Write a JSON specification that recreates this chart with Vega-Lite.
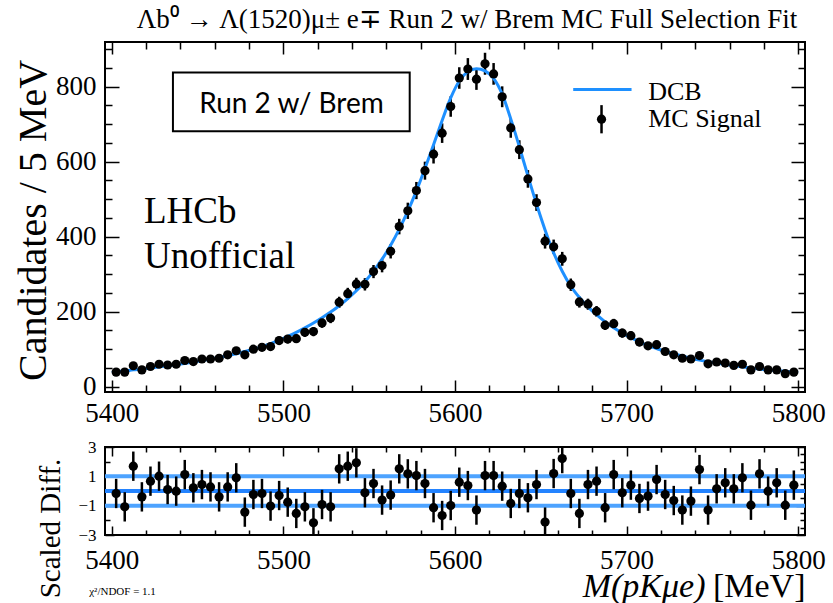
{
  "$schema": "https://vega.github.io/schema/vega-lite/v6.json",
  "background": "white",
  "padding": {"left": 11, "top": 5, "right": 5, "bottom": 5},
  "bounds": "flush",
  "spacing": 55,
  "datasets": {
    "bins": [
      {"m":5402.5,"n":39,"lo":32.8,"hi":45.2,"r":-0.17,"rlo":-1.17,"rhi":0.83},
      {"m":5407.5,"n":39,"lo":32.8,"hi":45.2,"r":-1.08,"rlo":-2.08,"rhi":-0.08},
      {"m":5412.5,"n":56,"lo":48.5,"hi":63.5,"r":1.69,"rlo":0.69,"rhi":2.69},
      {"m":5417.5,"n":45,"lo":38.3,"hi":51.7,"r":-0.40,"rlo":-1.40,"rhi":0.60},
      {"m":5422.5,"n":54,"lo":46.7,"hi":61.3,"r":0.67,"rlo":-0.33,"rhi":1.67},
      {"m":5427.5,"n":60,"lo":52.3,"hi":67.7,"r":1.01,"rlo":0.01,"rhi":2.01},
      {"m":5432.5,"n":58,"lo":50.4,"hi":65.6,"r":0.10,"rlo":-0.90,"rhi":1.10},
      {"m":5437.5,"n":60,"lo":52.3,"hi":67.7,"r":-0.01,"rlo":-1.01,"rhi":0.99},
      {"m":5442.5,"n":70,"lo":61.6,"hi":78.4,"r":1.12,"rlo":0.12,"rhi":2.12},
      {"m":5447.5,"n":67,"lo":58.8,"hi":75.2,"r":0.22,"rlo":-0.78,"rhi":1.22},
      {"m":5452.5,"n":74,"lo":65.4,"hi":82.6,"r":0.44,"rlo":-0.56,"rhi":1.44},
      {"m":5457.5,"n":74,"lo":65.4,"hi":82.6,"r":0.28,"rlo":-0.72,"rhi":1.28},
      {"m":5462.5,"n":76,"lo":67.3,"hi":84.7,"r":-0.40,"rlo":-1.40,"rhi":0.60},
      {"m":5467.5,"n":85,"lo":75.8,"hi":94.2,"r":0.28,"rlo":-0.72,"rhi":1.28},
      {"m":5472.5,"n":96,"lo":86.2,"hi":105.8,"r":0.90,"rlo":-0.10,"rhi":1.90},
      {"m":5477.5,"n":85,"lo":75.8,"hi":94.2,"r":-1.44,"rlo":-2.44,"rhi":-0.44},
      {"m":5482.5,"n":100,"lo":90,"hi":110,"r":-0.24,"rlo":-1.24,"rhi":0.76},
      {"m":5487.5,"n":105,"lo":94.8,"hi":115.2,"r":-0.17,"rlo":-1.17,"rhi":0.83},
      {"m":5492.5,"n":107,"lo":96.7,"hi":117.3,"r":-1.03,"rlo":-2.03,"rhi":-0.03},
      {"m":5497.5,"n":123,"lo":111.9,"hi":134.1,"r":-0.31,"rlo":-1.31,"rhi":0.69},
      {"m":5502.5,"n":127,"lo":115.7,"hi":138.3,"r":-0.76,"rlo":-1.76,"rhi":0.24},
      {"m":5507.5,"n":128,"lo":116.7,"hi":139.3,"r":-1.53,"rlo":-2.53,"rhi":-0.53},
      {"m":5512.5,"n":145,"lo":133,"hi":157,"r":-1.08,"rlo":-2.08,"rhi":-0.08},
      {"m":5517.5,"n":147,"lo":134.9,"hi":159.1,"r":-2.17,"rlo":-3.17,"rhi":-1.17},
      {"m":5522.5,"n":170,"lo":157,"hi":183,"r":-0.92,"rlo":-1.92,"rhi":0.08},
      {"m":5527.5,"n":183,"lo":169.5,"hi":196.5,"r":-1.08,"rlo":-2.08,"rhi":-0.08},
      {"m":5532.5,"n":225,"lo":210,"hi":240,"r":1.51,"rlo":0.51,"rhi":2.51},
      {"m":5537.5,"n":248,"lo":232.3,"hi":263.7,"r":1.69,"rlo":0.69,"rhi":2.69},
      {"m":5542.5,"n":274,"lo":257.4,"hi":290.6,"r":1.92,"rlo":0.92,"rhi":2.92},
      {"m":5547.5,"n":273,"lo":256.5,"hi":289.5,"r":-0.12,"rlo":-1.12,"rhi":0.88},
      {"m":5552.5,"n":307,"lo":289.5,"hi":324.5,"r":0.51,"rlo":-0.49,"rhi":1.51},
      {"m":5557.5,"n":323,"lo":305,"hi":341,"r":-0.62,"rlo":-1.62,"rhi":0.38},
      {"m":5562.5,"n":361,"lo":342,"hi":380,"r":-0.28,"rlo":-1.28,"rhi":0.72},
      {"m":5567.5,"n":427,"lo":406.3,"hi":447.7,"r":1.51,"rlo":0.51,"rhi":2.51},
      {"m":5572.5,"n":469,"lo":447.3,"hi":490.7,"r":1.17,"rlo":0.17,"rhi":2.17},
      {"m":5577.5,"n":523,"lo":500.1,"hi":545.9,"r":1.05,"rlo":0.05,"rhi":2.05},
      {"m":5582.5,"n":576,"lo":552,"hi":600,"r":0.51,"rlo":-0.49,"rhi":1.51},
      {"m":5587.5,"n":620,"lo":595.1,"hi":644.9,"r":-1.14,"rlo":-2.14,"rhi":-0.14},
      {"m":5592.5,"n":676,"lo":650,"hi":702,"r":-1.67,"rlo":-2.67,"rhi":-0.67},
      {"m":5597.5,"n":747,"lo":719.7,"hi":774.3,"r":-0.99,"rlo":-1.99,"rhi":0.01},
      {"m":5602.5,"n":823,"lo":794.3,"hi":851.7,"r":0.60,"rlo":-0.40,"rhi":1.60},
      {"m":5607.5,"n":847,"lo":817.9,"hi":876.1,"r":0.37,"rlo":-0.63,"rhi":1.37},
      {"m":5612.5,"n":820,"lo":791.4,"hi":848.6,"r":-1.30,"rlo":-2.30,"rhi":-0.30},
      {"m":5617.5,"n":861,"lo":831.7,"hi":890.3,"r":1.05,"rlo":0.05,"rhi":2.05},
      {"m":5622.5,"n":834,"lo":805.1,"hi":862.9,"r":1.05,"rlo":0.05,"rhi":2.05},
      {"m":5627.5,"n":773,"lo":745.2,"hi":800.8,"r":0.33,"rlo":-0.67,"rhi":1.33},
      {"m":5632.5,"n":690,"lo":663.7,"hi":716.3,"r":-0.85,"rlo":-1.85,"rhi":0.15},
      {"m":5637.5,"n":632,"lo":606.9,"hi":657.1,"r":-0.17,"rlo":-1.17,"rhi":0.83},
      {"m":5642.5,"n":554,"lo":530.5,"hi":577.5,"r":-0.46,"rlo":-1.46,"rhi":0.54},
      {"m":5647.5,"n":491,"lo":468.8,"hi":513.2,"r":0.44,"rlo":-0.56,"rhi":1.44},
      {"m":5652.5,"n":388,"lo":368.3,"hi":407.7,"r":-2.12,"rlo":-3.12,"rhi":-1.12},
      {"m":5657.5,"n":373,"lo":353.7,"hi":392.3,"r":1.19,"rlo":0.19,"rhi":2.19},
      {"m":5662.5,"n":341,"lo":322.5,"hi":359.5,"r":2.21,"rlo":1.21,"rhi":3.21},
      {"m":5667.5,"n":272,"lo":255.5,"hi":288.5,"r":-0.17,"rlo":-1.17,"rhi":0.83},
      {"m":5672.5,"n":226,"lo":211,"hi":241,"r":-1.53,"rlo":-2.53,"rhi":-0.53},
      {"m":5677.5,"n":220,"lo":205.2,"hi":234.8,"r":0.44,"rlo":-0.56,"rhi":1.44},
      {"m":5682.5,"n":201,"lo":186.8,"hi":215.2,"r":0.67,"rlo":-0.33,"rhi":1.67},
      {"m":5687.5,"n":164,"lo":151.2,"hi":176.8,"r":-1.14,"rlo":-2.14,"rhi":-0.14},
      {"m":5692.5,"n":168,"lo":155,"hi":181,"r":1.12,"rlo":0.12,"rhi":2.12},
      {"m":5697.5,"n":143,"lo":131,"hi":155,"r":-0.12,"rlo":-1.12,"rhi":0.88},
      {"m":5702.5,"n":136,"lo":124.3,"hi":147.7,"r":0.40,"rlo":-0.60,"rhi":1.40},
      {"m":5707.5,"n":119,"lo":108.1,"hi":129.9,"r":-0.51,"rlo":-1.51,"rhi":0.49},
      {"m":5712.5,"n":109,"lo":98.6,"hi":119.4,"r":-0.35,"rlo":-1.35,"rhi":0.65},
      {"m":5717.5,"n":112,"lo":101.4,"hi":122.6,"r":0.78,"rlo":-0.22,"rhi":1.78},
      {"m":5722.5,"n":94,"lo":84.3,"hi":103.7,"r":-0.24,"rlo":-1.24,"rhi":0.76},
      {"m":5727.5,"n":85,"lo":75.8,"hi":94.2,"r":-0.65,"rlo":-1.65,"rhi":0.35},
      {"m":5732.5,"n":76,"lo":67.3,"hi":84.7,"r":-1.30,"rlo":-2.30,"rhi":-0.30},
      {"m":5737.5,"n":74,"lo":65.4,"hi":82.6,"r":-0.69,"rlo":-1.69,"rhi":0.31},
      {"m":5742.5,"n":83,"lo":73.9,"hi":92.1,"r":1.46,"rlo":0.46,"rhi":2.46},
      {"m":5747.5,"n":61,"lo":53.2,"hi":68.8,"r":-1.30,"rlo":-2.30,"rhi":-0.30},
      {"m":5752.5,"n":66,"lo":57.9,"hi":74.1,"r":0.15,"rlo":-0.85,"rhi":1.15},
      {"m":5757.5,"n":63,"lo":55.1,"hi":70.9,"r":0.56,"rlo":-0.44,"rhi":1.56},
      {"m":5762.5,"n":57,"lo":49.5,"hi":64.5,"r":0.15,"rlo":-0.85,"rhi":1.15},
      {"m":5767.5,"n":60,"lo":52.3,"hi":67.7,"r":0.90,"rlo":-0.10,"rhi":1.90},
      {"m":5772.5,"n":45,"lo":38.3,"hi":51.7,"r":-0.97,"rlo":-1.97,"rhi":0.03},
      {"m":5777.5,"n":54,"lo":46.7,"hi":61.3,"r":1.17,"rlo":0.17,"rhi":2.17},
      {"m":5782.5,"n":45,"lo":38.3,"hi":51.7,"r":-0.01,"rlo":-1.01,"rhi":0.99},
      {"m":5787.5,"n":45,"lo":38.3,"hi":51.7,"r":0.56,"rlo":-0.44,"rhi":1.56},
      {"m":5792.5,"n":35,"lo":29.1,"hi":40.9,"r":-0.97,"rlo":-1.97,"rhi":0.03},
      {"m":5797.5,"n":39,"lo":32.8,"hi":45.2,"r":0.40,"rlo":-0.60,"rhi":1.40}
    ],
    "curve": [
      {"m":5400,"fit":38},{"m":5402.5,"fit":40},{"m":5407.5,"fit":42},{"m":5412.5,"fit":45},{"m":5417.5,"fit":47},
      {"m":5422.5,"fit":50},{"m":5427.5,"fit":53},{"m":5432.5,"fit":56},{"m":5437.5,"fit":59},{"m":5442.5,"fit":62},
      {"m":5447.5,"fit":66},{"m":5452.5,"fit":70},{"m":5457.5,"fit":74},{"m":5462.5,"fit":78},{"m":5467.5,"fit":83},
      {"m":5472.5,"fit":88},{"m":5477.5,"fit":94},{"m":5482.5,"fit":100},{"m":5487.5,"fit":107},{"m":5492.5,"fit":115},
      {"m":5497.5,"fit":124},{"m":5502.5,"fit":134},{"m":5507.5,"fit":145},{"m":5512.5,"fit":157},{"m":5517.5,"fit":170},
      {"m":5522.5,"fit":184},{"m":5527.5,"fit":199},{"m":5532.5,"fit":216},{"m":5537.5,"fit":235},{"m":5542.5,"fit":256},
      {"m":5547.5,"fit":280},{"m":5552.5,"fit":308},{"m":5557.5,"fit":340},{"m":5562.5,"fit":377},{"m":5567.5,"fit":420},
      {"m":5572.5,"fit":468},{"m":5577.5,"fit":522},{"m":5582.5,"fit":582},{"m":5587.5,"fit":645},{"m":5592.5,"fit":710},
      {"m":5597.5,"fit":770},{"m":5602.5,"fit":815},{"m":5607.5,"fit":840},{"m":5612.5,"fit":848},{"m":5617.5,"fit":842},
      {"m":5622.5,"fit":822},{"m":5627.5,"fit":780},{"m":5632.5,"fit":714},{"m":5637.5,"fit":640},{"m":5642.5,"fit":562},
      {"m":5647.5,"fit":487},{"m":5652.5,"fit":418},{"m":5657.5,"fit":357},{"m":5662.5,"fit":308},{"m":5667.5,"fit":268},
      {"m":5672.5,"fit":238},{"m":5677.5,"fit":213},{"m":5682.5,"fit":192},{"m":5687.5,"fit":173},{"m":5692.5,"fit":157},
      {"m":5697.5,"fit":143},{"m":5702.5,"fit":131},{"m":5707.5,"fit":120},{"m":5712.5,"fit":110},{"m":5717.5,"fit":102},
      {"m":5722.5,"fit":94},{"m":5727.5,"fit":88},{"m":5732.5,"fit":82},{"m":5737.5,"fit":76},{"m":5742.5,"fit":71},
      {"m":5747.5,"fit":67},{"m":5752.5,"fit":63},{"m":5757.5,"fit":59},{"m":5762.5,"fit":56},{"m":5767.5,"fit":53},
      {"m":5772.5,"fit":50},{"m":5777.5,"fit":47},{"m":5782.5,"fit":45},{"m":5787.5,"fit":43},{"m":5792.5,"fit":41},
      {"m":5797.5,"fit":39},{"m":5800,"fit":38}
    ],
    "refs": [{"ref": 1}, {"ref": -1}],
    "zero": [{"ref": 0}],
    "blank": [{}]
  },
  "config": {
    "view": {"stroke": "black", "strokeWidth": 2},
    "axis": {
      "domain": false, "grid": false, "tickColor": "black", "tickWidth": 1.5,
      "labelColor": "black", "labelFont": "Liberation Serif", "titleFont": "Liberation Serif",
      "titleFontWeight": "normal", "titleColor": "black", "labelFlush": false, "labelOverlap": false
    },
    "text": {"font": "Liberation Serif", "color": "black"}
  },
  "vconcat": [
    {
      "width": 700,
      "height": 350,
      "title": {
        "text": "Λb⁰ → Λ(1520)μ± e∓ Run 2 w/ Brem MC Full Selection Fit",
        "font": "Liberation Serif", "fontSize": 27, "fontWeight": "normal", "color": "black",
        "anchor": "middle", "frame": "group", "offset": -20, "baseline": "alphabetic", "dx": 12
      },
      "resolve": {"axis": {"x": "independent", "y": "independent"}},
      "layer": [
        {
          "data": {"name": "bins"},
          "mark": {"type": "rule", "color": "black", "strokeWidth": 2.5},
          "encoding": {
            "x": {"field": "m", "type": "quantitative",
              "scale": {"domain": [5396, 5804], "nice": false, "zero": false},
              "axis": {"orient": "bottom",
                "values": [5400,5420,5440,5460,5480,5500,5520,5540,5560,5580,5600,5620,5640,5660,5680,5700,5720,5740,5760,5780,5800],
                "format": "d",
                "tickSize": {"condition": {"test": "datum.value % 100 === 0", "value": -12}, "value": -7},
                "labelExpr": "datum.value % 100 === 0 ? datum.label : ''",
                "labelFontSize": 27, "labelPadding": 20, "title": null}},
            "y": {"field": "lo", "type": "quantitative",
              "scale": {"domain": [-14, 919], "nice": false, "zero": false},
              "axis": {"orient": "left",
                "values": [0,50,100,150,200,250,300,350,400,450,500,550,600,650,700,750,800,850,900],
                "format": "d",
                "tickSize": {"condition": {"test": "datum.value % 200 === 0", "value": -14}, "value": -7},
                "labelExpr": "datum.value % 200 === 0 ? datum.label : ''",
                "labelFontSize": 27, "labelPadding": 23,
                "title": "Candidates / 5 MeV", "titleFontSize": 40,
                "titleX": -72, "titleY": 178, "titleAngle": 270, "titleAlign": "center", "titleBaseline": "middle"}},
            "y2": {"field": "hi"}
          }
        },
        {
          "data": {"name": "curve"},
          "mark": {"type": "line", "color": "#1e90ff", "strokeWidth": 3, "interpolate": "monotone"},
          "encoding": {
            "x": {"field": "m", "type": "quantitative",
              "axis": {"orient": "top",
                "values": [5400,5420,5440,5460,5480,5500,5520,5540,5560,5580,5600,5620,5640,5660,5680,5700,5720,5740,5760,5780,5800],
                "tickSize": {"condition": {"test": "datum.value % 100 === 0", "value": -12}, "value": -7},
                "labels": false, "title": null}},
            "y": {"field": "fit", "type": "quantitative",
              "axis": {"orient": "right",
                "values": [0,50,100,150,200,250,300,350,400,450,500,550,600,650,700,750,800,850,900],
                "tickSize": {"condition": {"test": "datum.value % 200 === 0", "value": -14}, "value": -7},
                "labels": false, "title": null}}
          }
        },
        {
          "data": {"name": "bins"},
          "mark": {"type": "point", "filled": true, "shape": "circle", "size": 85, "color": "black", "opacity": 1},
          "encoding": {
            "x": {"field": "m", "type": "quantitative", "axis": null},
            "y": {"field": "n", "type": "quantitative", "axis": null}
          }
        },
        {
          "data": {"name": "blank"},
          "mark": {"type": "rect", "fill": "white", "fillOpacity": 0, "stroke": "black", "strokeWidth": 2},
          "encoding": {
            "x": {"datum": 5435.6, "type": "quantitative", "axis": null},
            "x2": {"datum": 5573.6},
            "y": {"datum": 681.3, "type": "quantitative", "axis": null},
            "y2": {"datum": 837.9}
          }
        },
        {
          "data": {"name": "blank"},
          "mark": {"type": "text", "text": "Run 2 w/ Brem", "font": "Lato", "fontSize": 28, "align": "center", "baseline": "alphabetic"},
          "encoding": {
            "x": {"datum": 5504.7, "type": "quantitative", "axis": null},
            "y": {"datum": 728.5, "type": "quantitative", "axis": null}
          }
        },
        {
          "data": {"name": "blank"},
          "mark": {"type": "text", "text": ["LHCb", "Unofficial"], "fontSize": 37, "lineHeight": 45, "align": "left", "baseline": "alphabetic"},
          "encoding": {
            "x": {"datum": 5418.7, "type": "quantitative", "axis": null},
            "y": {"datum": 436.8, "type": "quantitative", "axis": null}
          }
        },
        {
          "data": {"name": "blank"},
          "mark": {"type": "rule", "color": "#1e90ff", "strokeWidth": 3},
          "encoding": {
            "x": {"datum": 5668.9, "type": "quantitative", "axis": null},
            "x2": {"datum": 5702.9},
            "y": {"datum": 792.5, "type": "quantitative", "axis": null}
          }
        },
        {
          "data": {"name": "blank"},
          "mark": {"type": "rule", "color": "black", "strokeWidth": 2.5},
          "encoding": {
            "x": {"datum": 5685.4, "type": "quantitative", "axis": null},
            "y": {"datum": 675.5, "type": "quantitative", "axis": null},
            "y2": {"datum": 750.7}
          }
        },
        {
          "data": {"name": "blank"},
          "mark": {"type": "point", "filled": true, "shape": "circle", "size": 85, "color": "black", "opacity": 1},
          "encoding": {
            "x": {"datum": 5685.4, "type": "quantitative", "axis": null},
            "y": {"datum": 713.3, "type": "quantitative", "axis": null}
          }
        },
        {
          "data": {"name": "blank"},
          "mark": {"type": "text", "text": "DCB", "fontSize": 26, "align": "left", "baseline": "alphabetic"},
          "encoding": {
            "x": {"datum": 5712.6, "type": "quantitative", "axis": null},
            "y": {"datum": 764, "type": "quantitative", "axis": null}
          }
        },
        {
          "data": {"name": "blank"},
          "mark": {"type": "text", "text": "MC Signal", "fontSize": 26, "align": "left", "baseline": "alphabetic"},
          "encoding": {
            "x": {"datum": 5712.6, "type": "quantitative", "axis": null},
            "y": {"datum": 691.2, "type": "quantitative", "axis": null}
          }
        }
      ]
    },
    {
      "width": 700,
      "height": 88,
      "resolve": {"axis": {"x": "independent", "y": "independent"}},
      "layer": [
        {
          "data": {"name": "refs"},
          "mark": {"type": "rule", "color": "#4da3ff", "strokeWidth": 4},
          "encoding": {
            "y": {"field": "ref", "type": "quantitative", "scale": {"domain": [-3, 3], "nice": false, "zero": false}, "axis": null}
          }
        },
        {
          "data": {"name": "zero"},
          "mark": {"type": "rule", "color": "#2383ff", "strokeWidth": 4},
          "encoding": {
            "y": {"field": "ref", "type": "quantitative", "axis": null}
          }
        },
        {
          "data": {"name": "bins"},
          "mark": {"type": "rule", "color": "black", "strokeWidth": 2.5, "clip": true},
          "encoding": {
            "x": {"field": "m", "type": "quantitative",
              "scale": {"domain": [5396, 5804], "nice": false, "zero": false},
              "axis": {"orient": "bottom",
                "values": [5400,5420,5440,5460,5480,5500,5520,5540,5560,5580,5600,5620,5640,5660,5680,5700,5720,5740,5760,5780,5800],
                "format": "d",
                "tickSize": {"condition": {"test": "datum.value % 100 === 0", "value": -9}, "value": -5},
                "labelExpr": "datum.value % 100 === 0 ? datum.label : ''",
                "labelFontSize": 27, "labelPadding": 21,
                "title": "M(pKμe)", "titleFontSize": 34, "titleFontStyle": "italic",
                "titleX": 600, "titleY": 61, "titleAlign": "right", "titleBaseline": "alphabetic", "titleAngle": 0}},
            "y": {"field": "rlo", "type": "quantitative",
              "axis": {"orient": "left",
                "values": [-3,-2.5,-2,-1.5,-1,-0.5,0,0.5,1,1.5,2,2.5,3],
                "format": "d",
                "tickSize": {"condition": {"test": "(datum.value + 3) % 2 === 0", "value": -9}, "value": -5},
                "labelExpr": "(datum.value + 3) % 2 === 0 ? datum.label : ''",
                "labelFontSize": 17, "labelPadding": 18,
                "title": "Scaled Diff.", "titleFontSize": 29,
                "titleX": -55, "titleY": 81, "titleAngle": 270, "titleAlign": "center", "titleBaseline": "middle"}},
            "y2": {"field": "rhi"}
          }
        },
        {
          "data": {"name": "bins"},
          "mark": {"type": "point", "filled": true, "shape": "circle", "size": 85, "color": "black", "opacity": 1},
          "encoding": {
            "x": {"field": "m", "type": "quantitative",
              "axis": {"orient": "top",
                "values": [5400,5420,5440,5460,5480,5500,5520,5540,5560,5580,5600,5620,5640,5660,5680,5700,5720,5740,5760,5780,5800],
                "tickSize": {"condition": {"test": "datum.value % 100 === 0", "value": -9}, "value": -5},
                "labels": false,
                "title": "[MeV]", "titleFontSize": 34,
                "titleX": 700, "titleY": 149, "titleAlign": "right", "titleBaseline": "alphabetic", "titleAngle": 0}},
            "y": {"field": "r", "type": "quantitative",
              "axis": {"orient": "right",
                "values": [-3,-2.5,-2,-1.5,-1,-0.5,0,0.5,1,1.5,2,2.5,3],
                "tickSize": {"condition": {"test": "(datum.value + 3) % 2 === 0", "value": -9}, "value": -5},
                "labels": false, "title": null}}
          }
        },
        {
          "data": {"name": "blank"},
          "mark": {"type": "text", "text": "χ²/NDOF = 1.1", "fontSize": 11, "align": "left", "baseline": "alphabetic"},
          "encoding": {
            "x": {"datum": 5386.8, "type": "quantitative", "axis": null},
            "y": {"datum": -7.1, "type": "quantitative", "axis": null}
          }
        }
      ]
    }
  ]
}
